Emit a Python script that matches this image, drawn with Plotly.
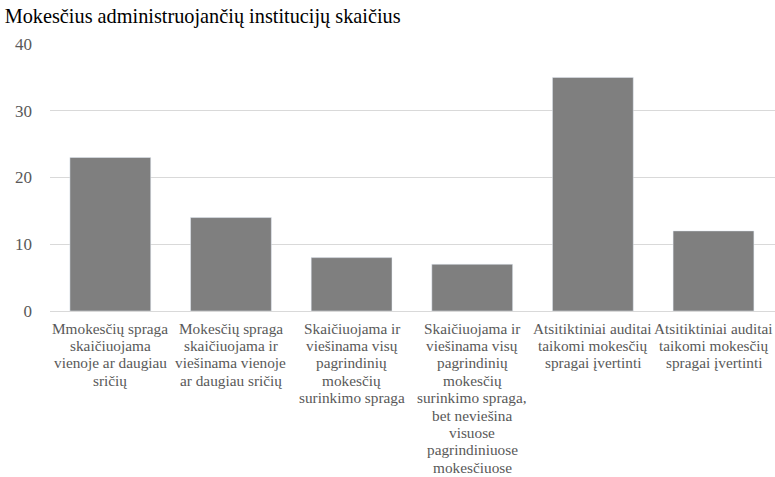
import plotly.graph_objects as go

# category labels, one list of lines per bar (wrapped as in the original)
label_lines = [
    ['Mmokesčių spraga', 'skaičiuojama', 'vienoje ar daugiau', 'sričių'],
    ['Mokesčių spraga', 'skaičiuojama ir', 'viešinama vienoje', 'ar daugiau sričių'],
    ['Skaičiuojama ir', 'viešinama visų', 'pagrindinių', 'mokesčių', 'surinkimo spraga'],
    ['Skaičiuojama ir', 'viešinama visų', 'pagrindinių', 'mokesčių', 'surinkimo spraga,',
     'bet neviešina', 'visuose', 'pagrindiniuose', 'mokesčiuose'],
    ['Atsitiktiniai auditai', 'taikomi mokesčių', 'spragai įvertinti'],
    ['Atsitiktiniai auditai', 'taikomi mokesčių', 'spragai įvertinti'],
]
categories = [' '.join(l) + ' ' * i for i, l in enumerate(label_lines)]
values = [23, 14, 8, 7, 35, 12]
y_ticks = [0, 10, 20, 30, 40]

serif = 'Liberation Serif, Times New Roman, serif'

fig = go.Figure(data=[go.Bar(
    x=categories,
    y=values,
    marker_color='#7f7f7f',
)])

# tick labels as annotations so the line spacing can be kept tight like the original
for cat, lines in zip(categories, label_lines):
    for i, line in enumerate(lines):
        fig.add_annotation(x=cat, xref='x', y=0, yref='paper', text=line,
                           showarrow=False, yanchor='middle', yshift=-(17 + i * 17.4),
                           font=dict(family=serif, size=15.3, color='#595959'))

fig.update_layout(
    width=775, height=477,
    title=dict(text='Mokesčius administruojančių institucijų skaičius',
               x=0.006, xanchor='left', yref='container', y=0.966, yanchor='middle',
               font=dict(family=serif, size=20.3, color='#000000')),
    font=dict(family=serif, color='#595959'),
    plot_bgcolor='white', paper_bgcolor='white',
    margin=dict(l=50, r=0, t=44, b=166),
    bargap=0.33,
    showlegend=False,
)
fig.update_xaxes(showticklabels=False, ticks='',
                 showline=True, linecolor='#d9d9d9', linewidth=1,
                 automargin=False)
fig.update_yaxes(range=[0, 40], tickvals=y_ticks, showgrid=True, gridcolor='#d9d9d9',
                 zeroline=False, tickfont=dict(family=serif, size=17, color='#595959'), ticks='',
                 ticklabelstandoff=17, automargin=False)

# drop the default page margin so the figure sits at the window's corner
fig.write_html("out.html", config={'displayModeBar': False},
               post_script="document.body.style.margin='0';")
